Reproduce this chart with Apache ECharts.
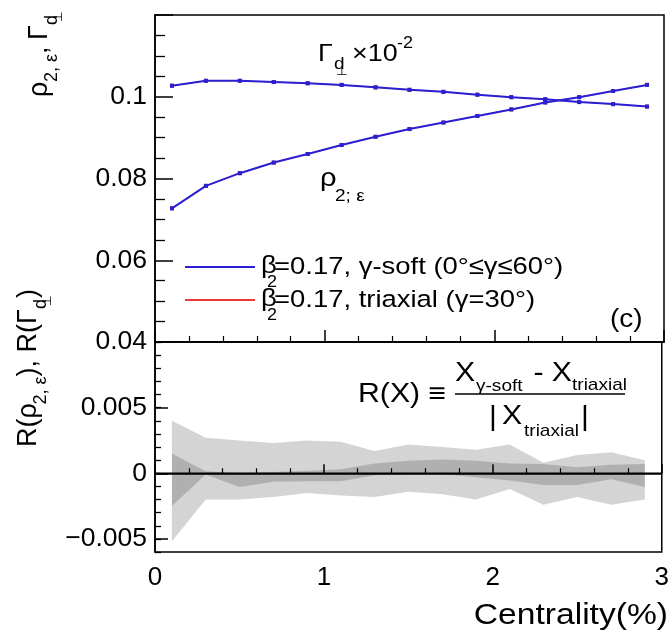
<!DOCTYPE html>
<html><head><meta charset="utf-8">
<script src="https://cdn.jsdelivr.net/npm/echarts@6/dist/echarts.min.js"></script>
<style>html,body{margin:0;padding:0;background:#fff}#c{width:672px;height:639px}</style>
</head><body><div id="c"></div>
<script>
// ---- data ----
const centrality = [0.1, 0.3, 0.5, 0.7, 0.9, 1.1, 1.3, 1.5, 1.7, 1.9, 2.1, 2.3, 2.5, 2.7, 2.9];
const rhoSoft = [0.0727, 0.0782, 0.0813, 0.0839, 0.0860, 0.0882, 0.0902, 0.0921, 0.0937, 0.0953, 0.0969, 0.0986, 0.0999, 0.1014, 0.1029];
const gammaSoft = [0.1027, 0.1039, 0.1039, 0.1036, 0.1033, 0.1029, 0.1023, 0.1017, 0.1012, 0.1005, 0.0999, 0.0994, 0.0987, 0.0982, 0.0976];
// triaxial curves lie under the gamma-soft curves (ratio ~1e-3)
const rhoTriaxial = [0.0727, 0.0782, 0.0813, 0.0839, 0.0860, 0.0882, 0.0902, 0.0921, 0.0937, 0.0953, 0.0969, 0.0986, 0.0999, 0.1014, 0.1029];
const gammaTriaxial = [0.1027, 0.1039, 0.1039, 0.1036, 0.1033, 0.1029, 0.1023, 0.1017, 0.1012, 0.1005, 0.0999, 0.0994, 0.0987, 0.0982, 0.0976];
// ratio bands (bottom panel)
const bandWideHigh = [0.0040, 0.0027, 0.0025, 0.0023, 0.0025, 0.0024, 0.0017, 0.0022, 0.0020, 0.0018, 0.0022, 0.0008, 0.0014, 0.0016, 0.0010];
const bandWideLow = [-0.0052, -0.0020, -0.0020, -0.0018, -0.0015, -0.0017, -0.0018, -0.0014, -0.0016, -0.0020, -0.0012, -0.0024, -0.0018, -0.0024, -0.0020];
const bandNarrowHigh = [0.0015, 0.00015, 0.0000, 0.0001, 0.0002, 0.0003, 0.00075, 0.00095, 0.00105, 0.00095, 0.00075, 0.0007, 0.00045, 0.00065, 0.0007];
const bandNarrowLow = [-0.0025, -0.0001, -0.00105, -0.00065, -0.0006, -0.0006, -0.00015, -0.00005, -0.00005, -0.0003, -0.00055, -0.0009, -0.0009, -0.00045, -0.00105];
// ticks / labels
const xTicks = [0, 1, 2, 3];
const topYTicks = [0.04, 0.06, 0.08, 0.1];
const topYLabels = ['0.04', '0.06', '0.08', '0.1'];
const bottomYTicks = [-0.005, 0, 0.005];
const bottomYLabels = ['\u22120.005', '0', '0.005'];

const BLUE = '#2a1fd2', RED = '#e83a3a';
const FF = '"Liberation Sans", Arial, Helvetica, sans-serif';
const SX = 1.12;

function tx(x, y, text, size, o) {
  o = o || {};
  return {type: 'text', x: x, y: y, scaleX: o.sx !== undefined ? o.sx : SX, silent: true, z: 100,
    style: {text: text, fontSize: size, fontFamily: FF, fill: '#000',
      align: o.align || 'left', verticalAlign: 'middle',
      textAlign: o.align || 'left', textVerticalAlign: 'middle'}};
}
function labelFrom(ticks, labels) {
  return function (v) {
    for (let i = 0; i < ticks.length; i++) if (Math.abs(v - ticks[i]) < 1e-9) return labels[i];
    return '';
  };
}
function bandSeries(low, high, color) {
  return {
    type: 'custom', xAxisIndex: 1, yAxisIndex: 1, silent: true, z: 2,
    data: centrality.map((x, i) => [x, low[i], high[i]]),
    encode: {x: 0, y: [1, 2]},
    renderItem: function (params, api) {
      if (params.dataIndex !== 0) return null;
      const pts = [];
      for (let i = 0; i < centrality.length; i++) pts.push(api.coord([centrality[i], high[i]]));
      for (let i = centrality.length - 1; i >= 0; i--) pts.push(api.coord([centrality[i], low[i]]));
      return {type: 'polygon', shape: {points: pts}, style: {fill: color}};
    }
  };
}
const pts = ys => centrality.map((x, i) => [x, ys[i]]);
const lineS = (data, color, w, z) => ({type: 'line', xAxisIndex: 0, yAxisIndex: 0, data: pts(data),
  color: color, lineStyle: {width: w, color: color}, itemStyle: {color: color},
  symbol: 'rect', symbolSize: 4, showSymbol: true, silent: true, z: z});

const axisLineStyle = {show: true, lineStyle: {color: '#000', width: 1.5}};
const chart = echarts.init(document.getElementById('c'), null, {renderer: 'canvas'});
chart.setOption({
  animation: false,
  backgroundColor: '#fff',
  grid: [
    {left: 155, right: 8, top: 15, height: 327, show: true, borderColor: '#000', borderWidth: 1.5, backgroundColor: 'transparent'},
    {left: 155, right: 8, top: 342, height: 210, show: true, borderColor: '#000', borderWidth: 1.5, backgroundColor: 'transparent'}
  ],
  xAxis: [
    {type: 'value', gridIndex: 0, min: xTicks[0], max: xTicks[xTicks.length - 1], interval: 1,
      axisLine: axisLineStyle, axisTick: {show: true, inside: true, length: 12, lineStyle: {color: '#000', width: 1.5}},
      minorTick: {show: true, splitNumber: 5, length: 6, lineStyle: {color: '#000', width: 1.2}},
      axisLabel: {show: false}, splitLine: {show: false}, minorSplitLine: {show: false}},
    {type: 'value', gridIndex: 1, min: xTicks[0], max: xTicks[xTicks.length - 1], interval: 1,
      axisLine: axisLineStyle, axisTick: {show: true, inside: true, length: 9, lineStyle: {color: '#000', width: 1.5}},
      minorTick: {show: true, splitNumber: 5, length: 5, lineStyle: {color: '#000', width: 1.2}},
      axisLabel: {show: true, fontSize: 26, fontFamily: FF, color: '#000', margin: 13,
        formatter: labelFrom(xTicks, xTicks.map(String))},
      splitLine: {show: false}}
  ],
  yAxis: [
    {type: 'value', gridIndex: 0, min: 0.04, max: 0.12, interval: 0.02,
      axisLine: axisLineStyle, axisTick: {show: true, inside: true, length: 18, lineStyle: {color: '#000', width: 1.5}},
      minorTick: {show: true, splitNumber: 4, length: 10, lineStyle: {color: '#000', width: 1.3}},
      axisLabel: {show: true, fontSize: 26.5, fontFamily: FF, color: '#000', margin: 8, formatter: labelFrom(topYTicks, topYLabels)},
      splitLine: {show: false}},
    {type: 'value', gridIndex: 1, min: -0.006, max: 0.01, interval: 0.001,
      axisLine: axisLineStyle, axisTick: {show: true, inside: true, length: 6, lineStyle: {color: '#000', width: 1.3}},
      axisLabel: {show: true, fontSize: 26.5, fontFamily: FF, color: '#000', margin: 8, formatter: labelFrom(bottomYTicks, bottomYLabels)},
      splitLine: {show: false}},
    {type: 'value', gridIndex: 1, min: -0.006, max: 0.01, position: 'left',
      axisLine: {show: false}, axisTick: {show: true, inside: true, length: 13, customValues: bottomYTicks, lineStyle: {color: '#000', width: 1.5}},
      axisLabel: {show: false}, splitLine: {show: false}}
  ],
  series: [
    lineS(rhoTriaxial, RED, 1, 3), lineS(gammaTriaxial, RED, 1, 3),
    lineS(rhoSoft, BLUE, 2, 4), lineS(gammaSoft, BLUE, 2, 4),
    bandSeries(bandWideLow, bandWideHigh, 'rgba(0,0,0,0.17)'),
    bandSeries(bandNarrowLow, bandNarrowHigh, 'rgba(0,0,0,0.17)'),
    {type: 'line', xAxisIndex: 1, yAxisIndex: 1, silent: true, z: 5, symbol: 'none',
      data: [[xTicks[0], 0], [xTicks[xTicks.length - 1], 0]], lineStyle: {color: '#000', width: 1.6}}
  ],
  graphic: [
    // legend
    {type: 'line', z: 100, shape: {x1: 185, y1: 267, x2: 255, y2: 267}, style: {stroke: BLUE, lineWidth: 2}},
    {type: 'line', z: 100, shape: {x1: 185, y1: 300, x2: 255, y2: 300}, style: {stroke: RED, lineWidth: 2}},
    tx(261, 266, '\u03b2', 24.5), tx(267, 283, '2', 16), tx(274, 267, '=0.17, \u03b3-soft (0\u00b0\u2264\u03b3\u226460\u00b0)', 24.5),
    tx(261, 299, '\u03b2', 24.5), tx(267, 316, '2', 16), tx(274, 300, '=0.17, triaxial (\u03b3=30\u00b0)', 24.5),
    tx(610, 320, '(c)', 25),
    // curve annotations
    tx(318, 54, '\u0393', 24), tx(334, 64, 'd', 17), tx(336, 72, '\u22a5', 12), tx(352, 54, '\u00d710', 24), tx(397, 44, '-2', 16),
    tx(320, 179, '\u03c1', 26), tx(335, 196, '2; \u03b5', 17),
    // ratio definition
    tx(358, 395, 'R(X) \u2261', 27),
    {type: 'line', z: 100, shape: {x1: 455, y1: 394, x2: 625, y2: 394}, style: {stroke: '#000', lineWidth: 1.5}},
    tx(455, 374, 'X', 27), tx(476, 386, '\u03b3-soft', 17), tx(525, 374, ' - X', 27), tx(572, 385, 'triaxial', 17),
    tx(489, 418, '|', 27), tx(502, 417, 'X', 27), tx(524, 431, 'triaxial', 17), tx(581, 418, '|', 27),
    // x axis title
    tx(668, 616, 'Centrality(%)', 30, {align: 'right'}),
    // y axis titles
    {type: 'group', x: 40, y: 97, rotation: Math.PI / 2, children: [
      tx(0, 0, '\u03c1', 27, {sx: 1}), tx(15, 12, '2, \u03b5', 18, {sx: 1}), tx(43, 0, ',', 27, {sx: 1}),
      tx(57, 0, '\u0393', 27, {sx: 1}), tx(72, 12, 'd', 18, {sx: 1}), tx(75, 19, '\u22a5', 12, {sx: 1})
    ]},
    {type: 'group', x: 29, y: 447, rotation: Math.PI / 2, children: [
      tx(0, 0, 'R(', 27, {sx: 1}), tx(28.5, 0, '\u03c1', 27, {sx: 1}), tx(42.5, 12, '2, \u03b5', 18, {sx: 1}),
      tx(70.5, 0, '), R(', 27, {sx: 1}), tx(123, 0, '\u0393', 27, {sx: 1}), tx(138, 12, 'd', 18, {sx: 1}),
      tx(141, 19, '\u22a5', 12, {sx: 1}), tx(149, 0, ')', 27, {sx: 1})
    ]}
  ]
});
</script>
</body></html>
